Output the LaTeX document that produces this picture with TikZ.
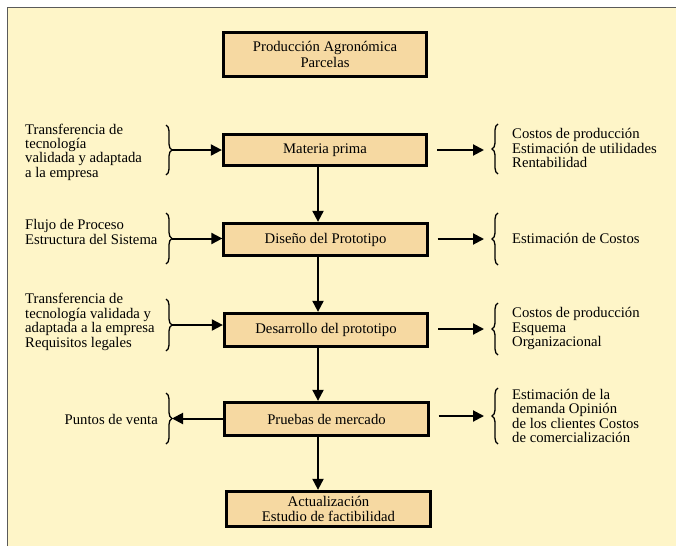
\documentclass[tikz,border=0pt]{standalone}
\usepackage{fontspec}
\setmainfont{Liberation Serif}
\usetikzlibrary{arrows.meta,decorations.pathreplacing}
\definecolor{bgcream}{HTML}{FEF5C8}
\definecolor{boxfill}{HTML}{F6D9A2}
\definecolor{framegray}{HTML}{5A5A5A}
\newcommand\dfont{\fontsize{14.7}{14.4}\selectfont}
\begin{document}
\begin{tikzpicture}[x=1pt,y=-1pt,
  box/.style={draw=black,line width=2.8pt,fill=boxfill,minimum width=203.5pt,minimum height=32.5pt,align=center,inner sep=2pt,font=\dfont},
  txt/.style={align=left,inner sep=0pt,font=\dfont},
  arr/.style={line width=2pt,-{Triangle[length=11pt,width=11pt]}},
  brc/.style={line width=1.3pt,decorate,decoration={brace,amplitude=6pt}}]
\useasboundingbox (0,0) rectangle (676,546);
\fill[white] (0,0) rectangle (676,546);
\fill[bgcream] (7,7) rectangle (676,546);
\draw[framegray,line width=1pt] (7,546) -- (7,7) -- (676,7);

% main boxes
\node[box,minimum height=44.5pt] (top) at (325,54.5) {Producción Agronómica\\[1pt]Parcelas};
\node[box,minimum height=31.5pt] (mp) at (325,150) {Materia prima};
\node[box] (dis) at (325.5,239.5) {Diseño del Prototipo};
\node[box,minimum height=33.5pt] (des) at (326,330) {Desarrollo del prototipo};
\node[box,minimum height=33.5pt] (pru) at (326.5,419) {Pruebas de mercado};
\node[box,minimum height=35.5pt] (act) at (328.5,509) {Actualización\\Estudio de factibilidad};

% vertical spine
\coordinate (spine) at (318,0);
\draw[arr] (mp.south -| spine) -- (dis.north -| spine);
\draw[arr] (dis.south -| spine) -- (des.north -| spine);
\draw[arr] (des.south -| spine) -- (pru.north -| spine);
\draw[arr] (pru.south -| spine) -- (act.north -| spine);

% left texts
\node[txt,anchor=west] (l1) at (25,152) {Transferencia de\\tecnología\\validada y adaptada\\a la empresa};
\node[txt,anchor=west] (l2) at (25,232) {Flujo de Proceso\\Estructura del Sistema};
\node[txt,anchor=west] (l3) at (25,322) {Transferencia de\\tecnología validada y\\adaptada a la empresa\\Requisitos legales};
\node[txt,anchor=east] (l4) at (158,419) {Puntos de venta};

% left braces
\coordinate (lb1a) at (166,125); \coordinate (lb1b) at (166,175); \coordinate (lb1tip) at (172,150);
\coordinate (lb2a) at (166,213); \coordinate (lb2b) at (166,264); \coordinate (lb2tip) at (172,238.5);
\coordinate (lb3a) at (166,299); \coordinate (lb3b) at (166,351); \coordinate (lb3tip) at (172,325);
\coordinate (lb4a) at (166,393); \coordinate (lb4b) at (166,444); \coordinate (lb4tip) at (172,418.5);
\draw[brc] (lb1a) -- (lb1b);
\draw[brc] (lb2a) -- (lb2b);
\draw[brc] (lb3a) -- (lb3b);
\draw[brc] (lb4a) -- (lb4b);
\draw[arr] (lb1tip) -- (lb1tip -| mp.west);
\draw[arr] (lb2tip) -- (lb2tip -| dis.west);
\draw[arr] (lb3tip) -- (lb3tip -| des.west);
\draw[arr] (lb4tip -| pru.west) -- (lb4tip);

% right texts
\node[txt,anchor=west] (r1) at (512,148) {Costos de producción\\Estimación de utilidades\\Rentabilidad};
\node[txt,anchor=west] (r2) at (512,238) {Estimación de Costos};
\node[txt,anchor=west] (r3) at (512,328.5) {Costos de producción\\Esquema\\Organizacional};
\node[txt,anchor=west] (r4) at (512,416) {Estimación de la\\demanda Opinión\\de los clientes Costos\\de comercialización};

% right braces
\coordinate (rb1a) at (498,174); \coordinate (rb1b) at (498,124); \coordinate (rb1tip) at (492,150);
\coordinate (rb2a) at (498,265); \coordinate (rb2b) at (498,213); \coordinate (rb2tip) at (492,239);
\coordinate (rb3a) at (498,355); \coordinate (rb3b) at (498,303); \coordinate (rb3tip) at (492,329);
\coordinate (rb4a) at (498,444); \coordinate (rb4b) at (498,388); \coordinate (rb4tip) at (492,416);
\draw[brc] (rb1a) -- (rb1b);
\draw[brc] (rb2a) -- (rb2b);
\draw[brc] (rb3a) -- (rb3b);
\draw[brc] (rb4a) -- (rb4b);
\draw[arr,shorten <=9pt,shorten >=8pt] (rb1tip -| mp.east) -- (rb1tip);
\draw[arr,shorten <=9pt,shorten >=8pt] (rb2tip -| dis.east) -- (rb2tip);
\draw[arr,shorten <=9pt,shorten >=8pt] (rb3tip -| des.east) -- (rb3tip);
\draw[arr,shorten <=9pt,shorten >=8pt] (rb4tip -| pru.east) -- (rb4tip);
\end{tikzpicture}
\end{document}
